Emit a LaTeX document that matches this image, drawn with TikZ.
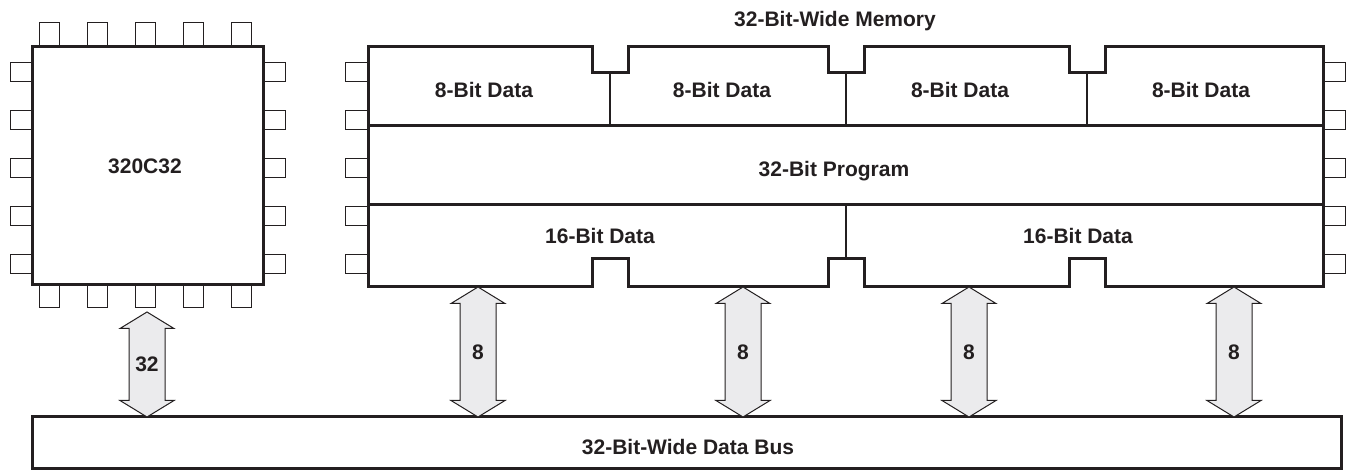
\documentclass[tikz,border=0pt]{standalone}
\usepackage{fontspec}
\setmainfont{Liberation Sans}
\usetikzlibrary{calc}
\definecolor{ink}{RGB}{35,31,32}
\definecolor{busgray}{RGB}{235,235,237}
\tikzset{
  pinbox/.style={draw=ink, line width=1pt, fill=white},
  heavy/.style={draw=ink, line width=3pt},
  divider/.style={draw=ink, line width=2.5pt},
  txt/.style={font=\fontsize{21}{25}\selectfont\bfseries, text=ink, inner sep=0pt},
  buslink/.style={draw=ink, line width=1pt, fill=busgray, line join=miter},
}
% fat two-headed bus arrow between two named points
\newcommand\buslink[3]{%
  \draw[buslink] (#1) -- ++(27,16.5) -- ++(-9,0) -- ($(#2)+(18,-16.5)$) -- ++(9,0)
    -- (#2) -- ++(-27,-16.5) -- ++(9,0) -- ($(#1)+(-18,16.5)$) -- ++(-9,0) -- cycle;
  \node[txt] at ($(#1)!0.5!(#2)$) {#3};}
\begin{document}
\begin{tikzpicture}[x=1pt,y=-1pt]
  \useasboundingbox (0,0) rectangle (1353,470);

  % pins
  \foreach \i in {0,...,4} {
    \draw[pinbox] (39+48*\i,23) rectangle ++(20,24);
    \draw[pinbox] (39+48*\i,284) rectangle ++(20,24);
    \draw[pinbox] (10,63+48*\i) rectangle ++(22,19);
    \draw[pinbox] (263,63+48*\i) rectangle ++(22,19);
    \draw[pinbox] (345,63+48*\i) rectangle ++(23,19);
    \draw[pinbox] (1323,63+48*\i) rectangle ++(22,19);
  }

  % processor
  \draw[heavy, fill=white] (32,47) rectangle (263,285);
  \node[txt, anchor=base] (cpu) at (145,174) {320C32};

  % memory
  \node[txt, anchor=base] (title) at (835,27) {32-Bit-Wide Memory};
  \draw[heavy, fill=white] (368,47) -- (592,47) -- (592,73) -- (628,73) -- (628,47)
    -- (828,47) -- (828,73) -- (864,73) -- (864,47)
    -- (1069,47) -- (1069,73) -- (1105,73) -- (1105,47) -- (1323,47)
    -- (1323,287) -- (1105,287) -- (1105,259) -- (1069,259) -- (1069,287)
    -- (864,287) -- (864,259) -- (828,259) -- (828,287)
    -- (628,287) -- (628,259) -- (592,259) -- (592,287) -- (368,287) -- cycle;
  \draw[heavy] (368,126) -- (1323,126);
  \draw[heavy] (368,205) -- (1323,205);
  \foreach \x in {610,846,1087}
    \draw[divider] (\x,73) -- (\x,126);
  \draw[divider] (846,205) -- (846,259);

  \node[txt, anchor=base] (d1) at (484,98) {8-Bit Data};
  \node[txt, anchor=base] (d2) at (722,98) {8-Bit Data};
  \node[txt, anchor=base] (d3) at (960,98) {8-Bit Data};
  \node[txt, anchor=base] (d4) at (1201,98) {8-Bit Data};
  \node[txt, anchor=base] (prog) at (834,177) {32-Bit Program};
  \node[txt, anchor=base] (h1) at (600,244) {16-Bit Data};
  \node[txt, anchor=base] (h2) at (1078,244) {16-Bit Data};

  % data bus
  \draw[heavy, fill=white] (32,417) rectangle (1341,468);
  \node[txt, anchor=base] (bus) at (688,454) {32-Bit-Wide Data Bus};

  % links
  \coordinate (cpuend) at (147,312);
  \coordinate (buscpu) at (147,417);
  \buslink{cpuend}{buscpu}{32}
  \foreach \x/\n in {478/a,743/b,969/c,1234/d} {
    \coordinate (mem\n) at (\x,287);
    \coordinate (bus\n) at (\x,417);
    \buslink{mem\n}{bus\n}{8}
  }
\end{tikzpicture}
\end{document}
